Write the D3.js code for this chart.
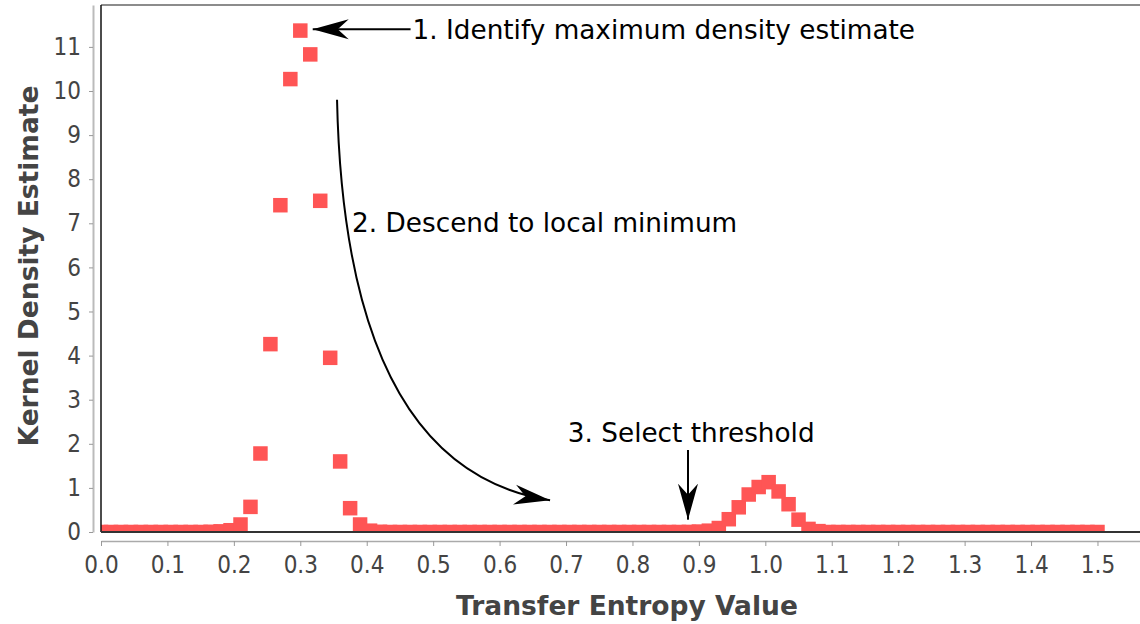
<!DOCTYPE html>
<html>
<head>
<meta charset="utf-8">
<script src="https://cdn.jsdelivr.net/npm/d3@7/dist/d3.min.js"></script>
<style>
  body { margin: 0; background: white; }
  svg { display: block; font-family: "DejaVu Sans", sans-serif; }
</style>
</head>
<body>
<svg id="chart" width="1140" height="624"></svg>
<script>
// transfer entropy grid (x) and kernel density estimate (y)
const teValues = [
  0.000, 0.015, 0.030, 0.045, 0.060, 0.075, 0.090, 0.105, 0.120, 0.135,
  0.150, 0.165, 0.180, 0.195, 0.210, 0.225, 0.240, 0.255, 0.270, 0.285,
  0.300, 0.315, 0.330, 0.345, 0.360, 0.375, 0.390, 0.405, 0.420, 0.435,
  0.450, 0.465, 0.480, 0.495, 0.510, 0.525, 0.540, 0.555, 0.570, 0.585,
  0.600, 0.615, 0.630, 0.645, 0.660, 0.675, 0.690, 0.705, 0.720, 0.735,
  0.750, 0.765, 0.780, 0.795, 0.810, 0.825, 0.840, 0.855, 0.870, 0.885,
  0.900, 0.915, 0.930, 0.945, 0.960, 0.975, 0.990, 1.005, 1.020, 1.035,
  1.050, 1.065, 1.080, 1.095, 1.110, 1.125, 1.140, 1.155, 1.170, 1.185,
  1.200, 1.215, 1.230, 1.245, 1.260, 1.275, 1.290, 1.305, 1.320, 1.335,
  1.350, 1.365, 1.380, 1.395, 1.410, 1.425, 1.440, 1.455, 1.470, 1.485,
  1.500
];
const densities = [
  0, 0, 0, 0, 0, 0, 0, 0, 0, 0,
  0, 0.005, 0.015, 0.04, 0.17, 0.57, 1.78, 4.26, 7.41, 10.27,
  11.37, 10.83, 7.51, 3.95, 1.60, 0.54, 0.17, 0.03, 0.005, 0,
  0, 0, 0, 0, 0, 0, 0, 0, 0, 0,
  0, 0, 0, 0, 0, 0, 0, 0, 0, 0,
  0, 0, 0, 0, 0, 0, 0, 0, 0, 0.002,
  0.01, 0.03, 0.09, 0.29, 0.56, 0.85, 1.02, 1.13, 0.92, 0.63,
  0.28, 0.07, 0.02, 0, 0, 0, 0, 0, 0, 0,
  0, 0, 0, 0, 0, 0, 0, 0, 0, 0,
  0, 0, 0, 0, 0, 0, 0, 0, 0, 0,
  0
];
const xTicks = [0, 0.1, 0.2, 0.3, 0.4, 0.5, 0.6, 0.7, 0.8, 0.9, 1.0, 1.1, 1.2, 1.3, 1.4, 1.5];
const yTicks = [0, 1, 2, 3, 4, 5, 6, 7, 8, 9, 10, 11];

const width = 1140, height = 624;
const margin = { top: 5, right: 0, bottom: 92, left: 101 };
const plotW = width - margin.left - margin.right;
const plotH = height - margin.top - margin.bottom;
const tickFont = "DejaVu Sans Condensed";

const svg = d3.select("#chart");

const x = d3.scaleLinear().domain([0, 1.564]).range([margin.left, margin.left + plotW]);
const y = d3.scaleLinear().domain([0, 11.95]).range([margin.top + plotH, margin.top]);

svg.append("defs").append("clipPath").attr("id", "plotClip")
  .append("rect")
  .attr("x", margin.left).attr("y", margin.top)
  .attr("width", plotW).attr("height", plotH);

// arrowhead (stealth style)
svg.select("defs").append("marker")
  .attr("id", "head")
  .attr("viewBox", "-36 -11 37 22")
  .attr("refX", 0).attr("refY", 0)
  .attr("markerUnits", "userSpaceOnUse")
  .attr("markerWidth", 37).attr("markerHeight", 22)
  .attr("orient", "auto")
  .append("path")
  .attr("d", "M0,0 L-36,-10 L-25,0 L-36,10 Z")
  .attr("fill", "black");

// y axis (detached, grey)
const yAxis = svg.append("g")
  .attr("transform", `translate(${margin.left - 8},0)`)
  .call(d3.axisLeft(y).tickValues(yTicks).tickSize(4).tickPadding(8).tickSizeOuter(0));
yAxis.select(".domain").attr("stroke", "#bbb").attr("stroke-width", 2);
yAxis.selectAll(".tick line").attr("stroke", "#999");
yAxis.selectAll(".tick text")
  .attr("fill", "#444").style("font-size", "24px").style("font-family", tickFont);

// x axis (detached, grey)
const xAxis = svg.append("g")
  .attr("transform", `translate(0,${margin.top + plotH + 9})`)
  .call(d3.axisBottom(x).tickValues(xTicks).tickFormat(d3.format(".1f")).tickSize(5).tickPadding(10).tickSizeOuter(0));
xAxis.select(".domain").attr("stroke", "#aaa").attr("stroke-width", 1.5);
xAxis.selectAll(".tick line").attr("stroke", "#999");
xAxis.selectAll(".tick text")
  .attr("fill", "#444").style("font-size", "24px").style("font-family", tickFont);

// density points
svg.append("g")
  .attr("clip-path", "url(#plotClip)")
  .selectAll("rect")
  .data(teValues.map((v, i) => ({ te: v, kde: densities[i] })))
  .enter().append("rect")
  .attr("x", d => x(d.te) - 7.25)
  .attr("y", d => y(d.kde) - 7.25)
  .attr("width", 14.5)
  .attr("height", 14.5)
  .attr("fill", "#ff5555");

// plot frame
svg.append("line")
  .attr("x1", margin.left).attr("x2", width)
  .attr("y1", margin.top).attr("y2", margin.top)
  .attr("stroke", "#666").attr("stroke-width", 1.5);
svg.append("line")
  .attr("x1", margin.left).attr("x2", margin.left)
  .attr("y1", margin.top).attr("y2", margin.top + plotH)
  .attr("stroke", "#111").attr("stroke-width", 1.5);
svg.append("line")
  .attr("x1", margin.left).attr("x2", width)
  .attr("y1", margin.top + plotH).attr("y2", margin.top + plotH)
  .attr("stroke", "#333").attr("stroke-width", 2);

// axis titles
svg.append("text")
  .attr("x", 627).attr("y", 615)
  .attr("text-anchor", "middle")
  .attr("fill", "#444")
  .style("font-size", "26.5px").style("font-weight", "bold")
  .text("Transfer Entropy Value");

svg.append("text")
  .attr("transform", `translate(38,${(88 + 444) / 2}) rotate(-90)`)
  .attr("text-anchor", "middle")
  .attr("fill", "#444")
  .style("font-size", "26.5px").style("font-weight", "bold")
  .text("Kernel Density Estimate");

// annotations
const note = svg.append("g").attr("fill", "black").style("font-size", "26.3px");

// 1. max density
svg.append("line")
  .attr("x1", x(0.466)).attr("y1", y(11.4))
  .attr("x2", x(0.3187)).attr("y2", y(11.4))
  .attr("stroke", "black").attr("stroke-width", 2)
  .attr("marker-end", "url(#head)");
note.append("text")
  .attr("x", x(0.469)).attr("y", y(11.4) + 9.5)
  .text("1. Identify maximum density estimate");

// 2. descend
const curve = d3.path();
curve.moveTo(x(0.3553), y(9.8));
curve.quadraticCurveTo(x(0.3673), y(1.45), x(0.676), y(0.72));
svg.append("path")
  .attr("d", curve.toString())
  .attr("fill", "none")
  .attr("stroke", "black").attr("stroke-width", 2)
  .attr("marker-end", "url(#head)");
note.append("text")
  .attr("x", x(0.378)).attr("y", y(6.8))
  .text("2. Descend to local minimum");

// 3. threshold
svg.append("line")
  .attr("x1", x(0.8836)).attr("y1", y(1.86))
  .attr("x2", x(0.8836)).attr("y2", y(0.28))
  .attr("stroke", "black").attr("stroke-width", 2)
  .attr("marker-end", "url(#head)");
note.append("text")
  .attr("x", x(0.7027)).attr("y", y(2.04))
  .text("3. Select threshold");
</script>
</body>
</html>
